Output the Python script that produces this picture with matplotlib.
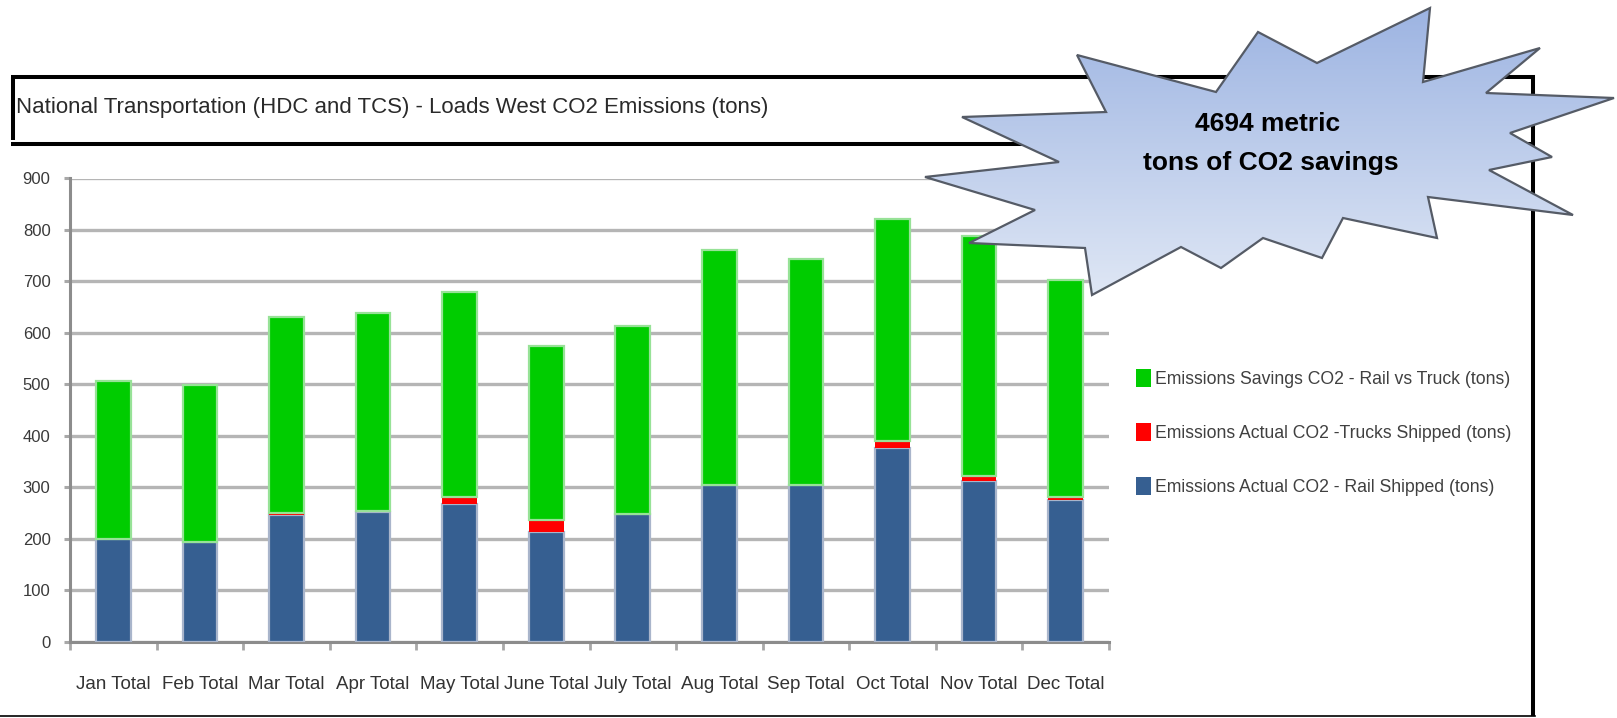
import numpy as np
import matplotlib
matplotlib.use('Agg')
import matplotlib.pyplot as plt
from matplotlib.patches import Polygon, Patch

W, H = 1617, 718

months = ['Jan Total', 'Feb Total', 'Mar Total', 'Apr Total', 'May Total', 'June Total',
          'July Total', 'Aug Total', 'Sep Total', 'Oct Total', 'Nov Total', 'Dec Total']
rail_shipped = [199, 194, 246, 252, 268, 213, 248, 305, 305, 377, 312, 276]
trucks_shipped = [1, 0, 4, 1, 13, 24, 0, 0, 0, 12, 9, 5]
savings = [306, 304, 380, 385, 399, 338, 366, 456, 439, 433, 467, 421]
y_ticks = list(range(0, 1000, 100))

title = 'National Transportation (HDC and TCS) - Loads West CO2 Emissions (tons)'
legend_labels = ['Emissions Savings CO2 - Rail vs Truck (tons)',
                 'Emissions Actual CO2 -Trucks Shipped (tons)',
                 'Emissions Actual CO2 - Rail Shipped (tons)']

# outline of the callout burst, in pixels from the top-left corner
burst = [(925, 177), (1059, 162), (962, 117), (1106, 112), (1077, 55), (1216, 92),
         (1258, 32), (1317, 63), (1430, 8), (1423, 82), (1540, 48), (1486, 93),
         (1614, 98), (1510, 133), (1552, 157), (1489, 170), (1573, 215), (1428, 197),
         (1437, 238), (1343, 218), (1322, 258), (1263, 238), (1221, 268), (1181, 247),
         (1092, 295), (1085, 248), (969, 243), (1035, 210)]

GREEN = '#00cc00'
RED = '#ff0000'
BLUE = '#365f91'

plt.rcParams['font.family'] = ['Liberation Sans', 'DejaVu Sans']

fig = plt.figure(figsize=(W / 100, H / 100), dpi=100)
ax = fig.add_axes([70 / W, 1 - 641.5 / H, 1039 / W, 463 / H])

x = np.arange(len(months))
rail = np.array(rail_shipped)
trucks = np.array(trucks_shipped)
save = np.array(savings)
bw = 0.40

ax.bar(x, rail, bw, color=BLUE, edgecolor='#a9b5cb', linewidth=1.6, zorder=3)
ax.bar(x, trucks, bw, bottom=rail, color=RED, linewidth=0, zorder=3)
ax.bar(x, save, bw, bottom=rail + trucks, color=GREEN, edgecolor='#97e297',
       linewidth=1.6, zorder=3)

ax.set_xlim(-0.5, len(months) - 0.5)
ax.set_ylim(0, 900)
ax.set_yticks(y_ticks)
ax.yaxis.grid(True, color='#b5b5b5', linewidth=2.4)
ax.set_axisbelow(True)
for side in ['top', 'right']:
    ax.spines[side].set_visible(False)
for side in ['left', 'bottom']:
    ax.spines[side].set_color('#8c8c8c')
    ax.spines[side].set_linewidth(2.2)

ax.tick_params(axis='y', length=4, width=2.2, color='#a8a8a8', pad=10,
               labelsize=12, labelcolor='#3a3a3a')
ax.set_xticks(x)
ax.set_xticklabels(months)
ax.tick_params(axis='x', which='major', length=0, pad=25, labelsize=13.5,
               labelcolor='#333333')
ax.set_xticks(np.arange(-0.5, len(months), 1), minor=True)
ax.tick_params(axis='x', which='minor', length=6, width=2, color='#a8a8a8')

fig.text(16 / W, 1 - 108 / H, title, fontsize=16, ha='left', va='center', color='#2a2a2a')

handles = [Patch(facecolor=GREEN), Patch(facecolor=RED), Patch(facecolor=BLUE)]
fig.legend(handles, legend_labels, loc='upper left', bbox_to_anchor=(1136 / W, 1 - 369 / H),
           frameon=False, fontsize=12.7, handlelength=0.85, handleheight=1.15,
           handletextpad=0.25, labelspacing=2.0, borderpad=0, borderaxespad=0,
           labelcolor='#404040')

# overlay in pixel coordinates for the frame and the callout
ov = fig.add_axes([0, 0, 1, 1], zorder=10)
ov.set_xlim(0, W)
ov.set_ylim(H, 0)
ov.axis('off')
ov.patch.set_visible(False)

frame_kw = dict(color='black', linewidth=2.9, solid_capstyle='butt', zorder=1)
ov.plot([11, 1535], [77, 77], **frame_kw)
ov.plot([12.5, 12.5], [77, 140], **frame_kw)
ov.plot([11, 1535], [144, 144], **frame_kw)
ov.plot([1533, 1533], [75, 716], **frame_kw)
ov.plot([0, 1535], [715.5, 715.5], color='black', linewidth=1.2, zorder=1)

star = Polygon(burst, closed=True, facecolor='none', edgecolor='#555b66',
               linewidth=1.6, zorder=4)
ov.add_patch(star)
xs = [p[0] for p in burst]
ys = [p[1] for p in burst]
top_c = np.array([157, 180, 226]) / 255
bot_c = np.array([223, 231, 245]) / 255
t = np.linspace(0, 1, 256)[:, None, None]
grad = top_c * (1 - t) + bot_c * t
img = ov.imshow(grad, extent=(min(xs), max(xs), max(ys), min(ys)), aspect='auto',
                interpolation='bilinear', zorder=3)
img.set_clip_path(star)

ov.text(1268, 124, f'{sum(savings)} metric', fontsize=19, fontweight='bold',
        ha='center', va='center', color='black', zorder=5)
ov.text(1271, 163, 'tons of CO2 savings', fontsize=19, fontweight='bold',
        ha='center', va='center', color='black', zorder=5)

fig.savefig('out.png', dpi=100)
